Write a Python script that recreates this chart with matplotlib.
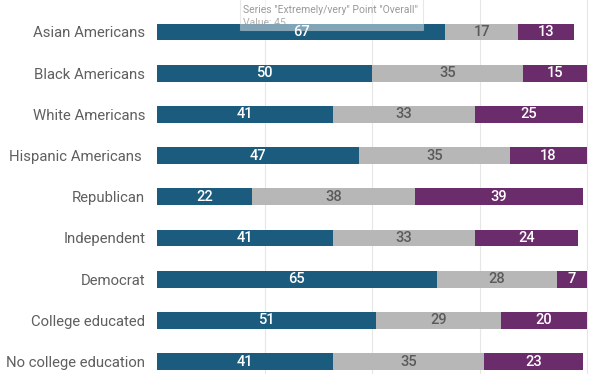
import numpy as np
import matplotlib.pyplot as plt
from matplotlib.patches import Rectangle

plt.rcParams['font.family'] = ['Roboto', 'DejaVu Sans']

# Data
groups = ["Asian Americans", "Black Americans", "White Americans",
          "Hispanic Americans ", "Republican", "Independent", "Democrat",
          "College educated", "No college education"]
extremely = [67, 50, 41, 47, 22, 41, 65, 51, 41]
somewhat = [17, 35, 33, 35, 38, 33, 28, 29, 35]
not_too = [13, 15, 25, 18, 39, 24, 7, 20, 23]
series_names = ["Extremely/very", "Somewhat", "Not too/not at all"]
colors = ["#1b5c7e", "#b7b7b7", "#6a2c6a"]
label_colors = ["white", "#5a5a5a", "white"]

W, H = 612, 374
fig = plt.figure(figsize=(W / 100, H / 100), dpi=100)
ax = fig.add_axes([157 / W, 0, (W - 157) / W, 1])

px_per_unit = 4.3
row_px = 41.2
ax.set_xlim(0, (W - 157) / px_per_unit)
ax.set_ylim((H - 32) / row_px, -32 / row_px)

y = np.arange(len(groups))
left = np.zeros(len(groups))
for vals, name, c, lc in zip([extremely, somewhat, not_too], series_names, colors, label_colors):
    vals = np.array(vals)
    ax.barh(y, vals, left=left, height=0.41, color=c, label=name, zorder=2)
    for yi, l, v in zip(y, left, vals):
        ax.text(l + v / 2, yi, str(v), ha="center", va="center",
                color=lc, fontsize=10.5, fontweight="medium", zorder=3)
    left += vals

for xv in [25, 50, 75, 100]:
    ax.axvline(xv, color="#e6e6e6", lw=0.8, zorder=1)

ax.set_yticks(y)
ax.set_yticklabels(groups, fontsize=10.7, color="#5f5f5f")
ax.tick_params(axis="y", length=0, pad=8.5)
ax.set_xticks([])
for s in ax.spines.values():
    s.set_visible(False)

# tooltip left over in the screenshot
fig.patches.append(Rectangle((240 / W, 1 - 30 / H), 183 / W, 40 / H,
                             transform=fig.transFigure, facecolor="white",
                             alpha=0.45, edgecolor="#cccccc", lw=0.8, zorder=5))
fig.text(243 / W, 1 - 10 / H, 'Series "Extremely/very" Point "Overall"',
         fontsize=7.5, color="#9a9a9a", va="center", zorder=6)
fig.text(243 / W, 1 - 23 / H, 'Value: 45', fontsize=7.5, color="#9a9a9a",
         va="center", zorder=6, alpha=0.8)

fig.savefig("out.png", dpi=100)
